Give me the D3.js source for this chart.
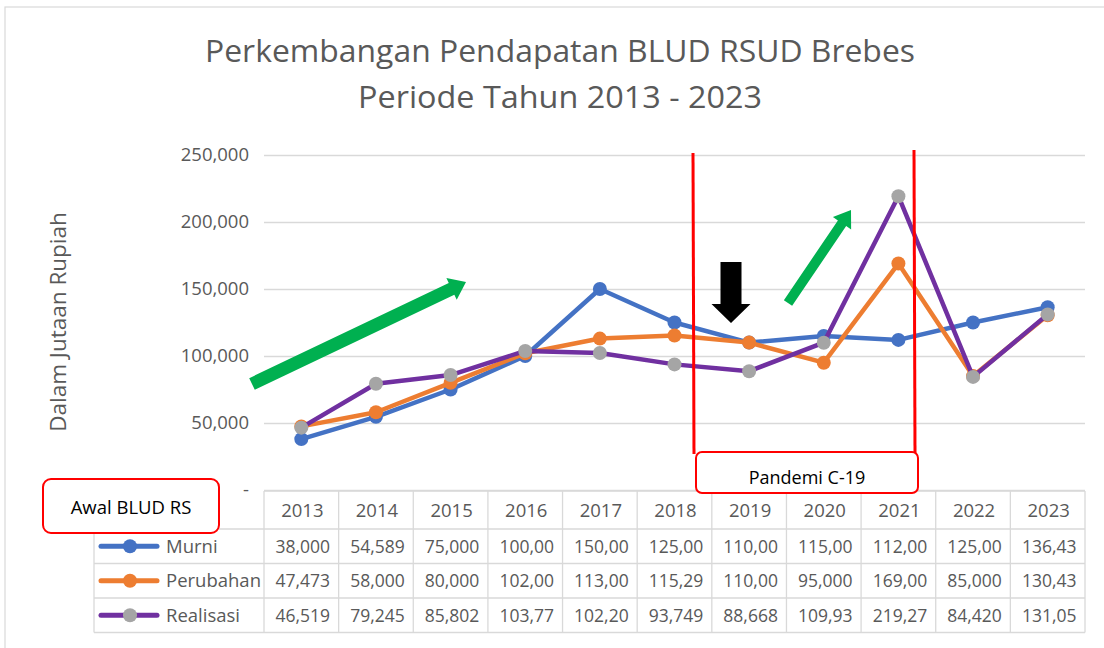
<!DOCTYPE html>
<html><head><meta charset="utf-8">
<script src="https://cdn.jsdelivr.net/npm/d3@7"></script>
<style>
html,body{margin:0;padding:0;background:#fff;}
svg{display:block;font-family:"Open Sans",sans-serif;}
</style></head>
<body><svg id="c" width="1104" height="648"></svg>
<script>
const years = ["2013","2014","2015","2016","2017","2018","2019","2020","2021","2022","2023"];
const seriesNames = ["Murni","Perubahan","Realisasi"];
const murni = [38000,54589,75000,100000,150000,125000,110000,115000,112000,125000,136430];
const perubahan = [47473,58000,80000,102000,113000,115290,110000,95000,169000,85000,130430];
const realisasi = [46519,79245,85802,103770,102200,93749,88668,109930,219270,84420,131050];
const yTicks = [0,50000,100000,150000,200000,250000];
const titleLines = ["Perkembangan Pendapatan BLUD RSUD Brebes","Periode Tahun 2013 - 2023"];
const yTitle = "Dalam Jutaan Rupiah";

const lineColors = ["#4472C4","#ED7D31","#7030A0"];
const markerColors = ["#4472C4","#ED7D31","#A5A5A5"];
const allSeries = [murni, perubahan, realisasi];

const svg = d3.select("#c");
const txt = "#595959";

// frame
svg.append("rect").attr("x",5).attr("y",7).attr("width",1110).attr("height",660)
  .attr("fill","#fff").attr("stroke","#D9D9D9").attr("stroke-width",1.2);

// title
const tl = svg.append("g").attr("fill",txt).attr("font-size",31).attr("text-anchor","middle");
tl.append("text").attr("x",560).attr("y",62).attr("textLength",710).attr("lengthAdjust","spacingAndGlyphs").text(titleLines[0]);
tl.append("text").attr("x",560).attr("y",108).attr("textLength",404).attr("lengthAdjust","spacingAndGlyphs").text(titleLines[1]);

const x = d3.scaleBand().domain(years).range([264,1085]).padding(0);
const y = d3.scaleLinear().domain([0,250000]).range([490,155]);
const cx = d => x(d) + x.bandwidth()/2;

// grid + y axis
const ax = svg.append("g").attr("transform","translate(264,0)")
  .call(d3.axisLeft(y).tickValues(yTicks).tickSize(-(1085-264)).tickPadding(15)
    .tickFormat(d => d===0 ? "-" : d3.format(",")(d)));
ax.select(".domain").remove();
ax.selectAll(".tick line").attr("stroke","#D9D9D9").attr("stroke-width",1.3);
ax.selectAll(".tick text").attr("fill",txt).attr("font-size",18.5).attr("font-family","Open Sans");

svg.append("text").attr("transform","translate(66,322) rotate(-90)")
  .attr("text-anchor","middle").attr("fill",txt).attr("font-size",22.5).text(yTitle);

// lines
const line = d3.line().x((d,i)=>cx(years[i])).y(d=>y(d));
allSeries.forEach((s,k)=>{
  svg.append("path").datum(s).attr("d",line).attr("fill","none")
    .attr("stroke",lineColors[k]).attr("stroke-width",4.5).attr("stroke-linejoin","round");
  svg.append("g").selectAll("circle").data(s).join("circle")
    .attr("cx",(d,i)=>cx(years[i])).attr("cy",d=>y(d)).attr("r",7).attr("fill",markerColors[k]);
});

// data table
const tTop = 491, hH = 38, rH = 34.5, legL = 94;
const tg = svg.append("g");
const grid = "#D9D9D9";
tg.append("line").attr("x1",264).attr("x2",1085).attr("y1",tTop).attr("y2",tTop).attr("stroke",grid).attr("stroke-width",1.3);
for (let r=0;r<=3;r++){
  const yy = tTop+hH+r*rH;
  tg.append("line").attr("x1",legL).attr("x2",1085).attr("y1",yy).attr("y2",yy).attr("stroke",grid).attr("stroke-width",1.3);
}
years.forEach(yr=>{
  tg.append("line").attr("x1",x(yr)).attr("x2",x(yr)).attr("y1",tTop).attr("y2",tTop+hH+3*rH).attr("stroke",grid).attr("stroke-width",1.3);
});
tg.append("line").attr("x1",1085).attr("x2",1085).attr("y1",tTop).attr("y2",tTop+hH+3*rH).attr("stroke",grid).attr("stroke-width",1.3);
tg.append("line").attr("x1",legL).attr("x2",legL).attr("y1",tTop+hH).attr("y2",tTop+hH+3*rH).attr("stroke",grid).attr("stroke-width",1.3);
tg.selectAll("text.h").data(years).join("text").attr("class","h")
  .attr("x",d=>cx(d)+1).attr("y",tTop+hH/2+6.5).attr("text-anchor","middle")
  .attr("fill",txt).attr("font-size",18.5).text(d=>d);
const fmt = v => d3.format(",")(Math.round(v)).slice(0,6);
allSeries.forEach((s,k)=>{
  const ym = tTop+hH+k*rH+rH/2;
  tg.append("g").selectAll("text").data(s).join("text")
    .attr("x",(d,i)=>cx(years[i])+1.5).attr("y",ym+6.5).attr("text-anchor","middle")
    .attr("fill",txt).attr("font-size",17.5).text(d=>fmt(d));
  tg.append("line").attr("x1",101).attr("x2",157).attr("y1",ym).attr("y2",ym)
    .attr("stroke",lineColors[k]).attr("stroke-width",5).attr("stroke-linecap","round");
  tg.append("circle").attr("cx",130).attr("cy",ym).attr("r",7).attr("fill",markerColors[k]);
  tg.append("text").attr("x",166).attr("y",ym+6.5).attr("fill",txt).attr("font-size",18.5).text(seriesNames[k]);
});

// annotations
const red = "#FF0000";
svg.append("line").attr("x1",693).attr("x2",694).attr("y1",153).attr("y2",454).attr("stroke",red).attr("stroke-width",3);
svg.append("line").attr("x1",914).attr("x2",915).attr("y1",150).attr("y2",454).attr("stroke",red).attr("stroke-width",3);
svg.append("rect").attr("x",696).attr("y",452).attr("width",222).attr("height",41).attr("rx",6)
  .attr("fill","#fff").attr("stroke",red).attr("stroke-width",2);
svg.append("text").attr("x",807).attr("y",484).attr("text-anchor","middle").attr("font-size",18).attr("fill","#000").text("Pandemi C-19");
svg.append("rect").attr("x",43).attr("y",479).attr("width",176).attr("height",54).attr("rx",8)
  .attr("fill","#fff").attr("stroke",red).attr("stroke-width",2);
svg.append("text").attr("x",131).attr("y",514).attr("text-anchor","middle").attr("font-size",18.5).attr("fill","#000").text("Awal BLUD RS");

// arrows
function arrow(x1,y1,x2,y2,w,hw,hl,color){
  const dx=x2-x1, dy=y2-y1, L=Math.hypot(dx,dy), ux=dx/L, uy=dy/L, px=-uy, py=ux;
  const bx=x2-ux*hl, by=y2-uy*hl;
  const pts=[[x1+px*w/2,y1+py*w/2],[bx+px*w/2,by+py*w/2],[bx+px*hw/2,by+py*hw/2],[x2,y2],
    [bx-px*hw/2,by-py*hw/2],[bx-px*w/2,by-py*w/2],[x1-px*w/2,y1-py*w/2]];
  svg.append("polygon").attr("points",pts.map(p=>p.join(",")).join(" ")).attr("fill",color);
}
arrow(252,384,466,282,13,24,16,"#00B050");
arrow(788,303,851,210,10,22,16,"#00B050");
arrow(731,262,731,323,21,39,19,"#000");
</script></body></html>
